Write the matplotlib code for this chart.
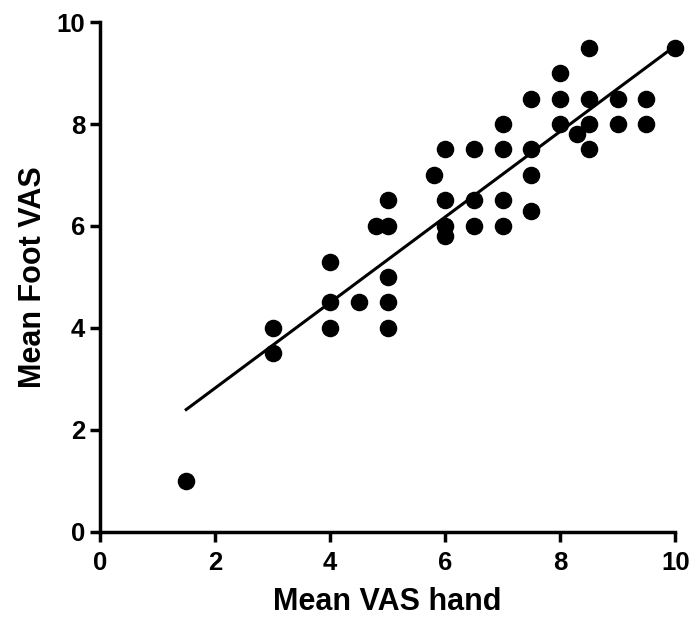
import numpy as np
import matplotlib
matplotlib.use("Agg")
import matplotlib.pyplot as plt

plt.rcParams['font.family'] = ['Liberation Sans', 'DejaVu Sans']
plt.rcParams['font.weight'] = 'bold'

# Mean VAS hand vs mean foot VAS
vas_hand = [1.5, 3, 3, 4, 4, 4, 4.5, 4.8, 5, 5, 5, 5, 5,
            5.8, 6, 6, 6, 6, 6.5, 6.5, 6.5, 7, 7, 7, 7,
            7.5, 7.5, 7.5, 7.5, 8, 8, 8, 8.3, 8.5, 8.5, 8.5, 8.5,
            9, 9, 9.5, 9.5, 10]
vas_foot = [1, 4, 3.5, 5.3, 4.5, 4, 4.5, 6, 6, 6.5, 5, 4.5, 4,
            7, 7.5, 6.5, 6, 5.8, 7.5, 6.5, 6, 8, 7.5, 6.5, 6,
            8.5, 7.5, 7, 6.3, 9, 8.5, 8, 7.8, 9.5, 8.5, 8, 7.5,
            8.5, 8, 8.5, 8, 9.5]

x = np.array(vas_hand)
y = np.array(vas_foot)
slope, intercept = np.polyfit(x, y, 1)
line_x = np.array([x.min(), x.max()])

fig = plt.figure(figsize=(6.94, 6.2), dpi=100)
ax = fig.add_axes([0.144, 0.142, 0.829, 0.8225])

ax.scatter(x, y, s=135, color='black', zorder=3, clip_on=False)
ax.plot(line_x, slope * line_x + intercept, color='black', lw=2.2)

ax.set_xlim(0, 10)
ax.set_ylim(0, 10)
ax.set_xticks([0, 2, 4, 6, 8, 10])
ax.set_yticks([0, 2, 4, 6, 8, 10])
for side in ['top', 'right']:
    ax.spines[side].set_visible(False)
for side in ['left', 'bottom']:
    ax.spines[side].set_linewidth(2.5)
ax.tick_params(width=2.5, length=7.5, labelsize=18.5)
ax.tick_params(axis='x', pad=6)
ax.tick_params(axis='y', pad=3)
ax.set_xlabel('Mean VAS hand', fontsize=22, fontweight='bold', labelpad=9)
ax.set_ylabel('Mean Foot VAS', fontsize=22, fontweight='bold', labelpad=6)

fig.savefig('out.png', dpi=100)
